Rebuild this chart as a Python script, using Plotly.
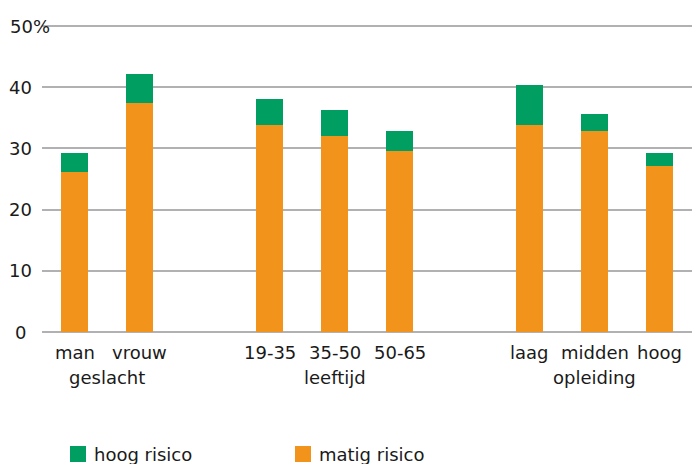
import plotly.graph_objects as go

# Share of respondents per risk level (%), by sex, age group and education
categories = ["man", "vrouw", "19-35", "35-50", "50-65", "laag", "midden", "hoog"]
groups = ["geslacht", "geslacht", "leeftijd", "leeftijd", "leeftijd",
          "opleiding", "opleiding", "opleiding"]
matig_risico = [26.1, 37.4, 33.8, 32.0, 29.6, 33.9, 32.8, 27.1]
hoog_risico = [3.1, 4.8, 4.2, 4.2, 3.3, 6.4, 2.9, 2.1]
y_ticks = [0, 10, 20, 30, 40, 50]
y_tick_labels = ["0", "10", "20", "30", "40", "50%"]

GREEN = "#009E60"
ORANGE = "#F2941C"
GRID = "#B1B1B3"
TEXT = "#1a1a1a"
FONT = "DejaVu Sans"

# slot positions: one empty slot between groups
positions = []
pos = 0
for i, g in enumerate(groups):
    if i > 0:
        pos += 2 if g != groups[i - 1] else 1
    positions.append(pos)

W, H = 692, 464
ML, MR, MT, MB = 42, 0, 20, 132
PW, PH = W - ML - MR, H - MT - MB
Y_MAX = 50 * PH / 306  # keeps 50 at 26 px from the top


def px_x(px):
    return (px - ML) / PW


def px_y(py):
    return (H - MB - py) / PH


fig = go.Figure()
fig.add_trace(go.Bar(x=positions, y=matig_risico, name="matig risico",
                     marker=dict(color=ORANGE, line=dict(width=0)), width=0.42))
fig.add_trace(go.Bar(x=positions, y=hoog_risico, name="hoog risico",
                     marker=dict(color=GREEN, line=dict(width=0)), width=0.42))

annotations = []
# y tick labels
for v, t in zip(y_ticks, y_tick_labels):
    if t.endswith("%"):
        annotations.append(dict(x=px_x(8), y=v, xref="paper", yref="y", text=t,
                                xanchor="left", yanchor="middle", showarrow=False))
    else:
        annotations.append(dict(x=px_x(20), y=v, xref="paper", yref="y", text=t,
                                xanchor="center", yanchor="middle", showarrow=False))

# category labels
for p, c in zip(positions, categories):
    annotations.append(dict(x=p, y=px_y(352), xref="x", yref="paper", text=c,
                            xanchor="center", yanchor="middle", showarrow=False))

# group labels, centred under each group
seen = []
for g in groups:
    if g not in seen:
        seen.append(g)
for g in seen:
    ps = [p for p, gg in zip(positions, groups) if gg == g]
    annotations.append(dict(x=(min(ps) + max(ps)) / 2, y=px_y(377), xref="x",
                            yref="paper", text=g, xanchor="center",
                            yanchor="middle", showarrow=False))

# legend
shapes = []
legend_items = [("hoog risico", GREEN, 70), ("matig risico", ORANGE, 295)]
for label, col, x0 in legend_items:
    shapes.append(dict(type="rect", xref="paper", yref="paper",
                       x0=px_x(x0), x1=px_x(x0 + 16), y0=px_y(462), y1=px_y(446),
                       fillcolor=col, line=dict(width=0)))
    annotations.append(dict(x=px_x(x0 + 22), y=px_y(454), xref="paper",
                            yref="paper", text=label, xanchor="left",
                            yanchor="middle", showarrow=False))

fig.update_layout(
    width=W, height=H,
    margin=dict(l=ML, r=MR, t=MT, b=MB),
    barmode="stack",
    showlegend=False,
    plot_bgcolor="white",
    paper_bgcolor="white",
    font=dict(family=FONT, size=18, color=TEXT),
    annotations=annotations,
    shapes=shapes,
    xaxis=dict(range=[-0.5, 9.5], showgrid=False, zeroline=False,
               showticklabels=False, ticks="", showline=False, fixedrange=True),
    yaxis=dict(range=[0, Y_MAX], tickvals=y_ticks, showticklabels=False,
               showgrid=True, gridcolor=GRID, gridwidth=2,
               zeroline=True, zerolinecolor=GRID, zerolinewidth=2,
               ticks="", showline=False, fixedrange=True),
)

fig.write_html("out.html", config={"displayModeBar": False})
